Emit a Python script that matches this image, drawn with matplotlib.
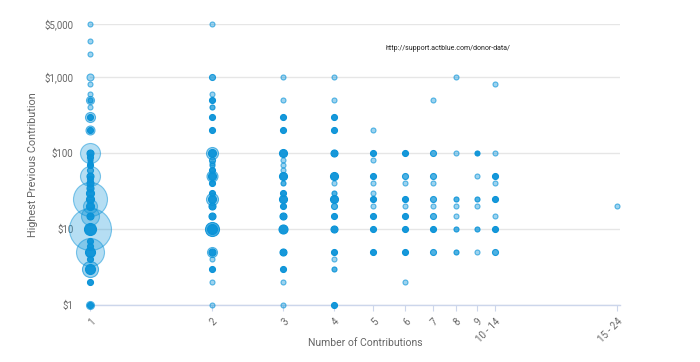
import numpy as np
import matplotlib
matplotlib.use("Agg")
import matplotlib.pyplot as plt
from matplotlib.colors import to_rgba

plt.rcParams["font.family"] = ["Roboto", "DejaVu Sans"]

# categories on the x axis and where they sit on the (log) count scale
categories = ["1", "2", "3", "4", "5", "6", "7", "8", "9", "10 - 14", "15 - 24"]
cat_pos = [1, 2, 3, 4, 5, 6, 7, 8, 9, 10, 20]

# each column: (highest previous contribution, bubble radius px, overlap level 0..3)
col_1 = [(5000, 2.5, 1), (3000, 2.5, 1), (2000, 2.5, 1), (1000, 3.5, 1), (800, 2.5, 1),
         (600, 2.5, 1), (500, 4, 1), (500, 2.5, 2), (400, 2.5, 1), (300, 5, 1), (300, 3, 3),
         (200, 4.5, 1), (200, 3, 3), (100, 10, 0), (100, 3.5, 3), (90, 3, 3), (80, 2.5, 3),
         (75, 2.5, 3), (70, 3, 3), (60, 3, 2), (50, 10, 0), (50, 3.5, 3), (45, 3, 2),
         (40, 3.5, 3), (35, 3.5, 3), (30, 4, 3), (25, 17, 0), (25, 4, 3), (20, 7, 0),
         (20, 4, 3), (15, 9, 0), (15, 3.5, 3), (10, 21, 0), (10, 6, 3), (7, 3, 3), (6, 3, 3),
         (5, 14, 0), (5, 5, 3), (4, 3, 3), (3, 8, 1), (3, 5, 3), (2, 3, 3), (1, 4, 1), (1, 3, 3)]
col_2 = [(5000, 2.5, 1), (1000, 3, 2), (600, 2.5, 1), (500, 3, 3), (400, 2.5, 2), (300, 3, 3),
         (200, 3, 3), (100, 6, 1), (100, 4, 3), (80, 3, 2), (75, 2.5, 1), (70, 2.5, 2),
         (60, 3, 3), (50, 5.5, 1), (50, 4, 3), (40, 3, 3), (30, 3, 3), (25, 6, 1), (25, 4, 3),
         (20, 3.5, 3), (15, 3.5, 3), (10, 7, 2), (10, 5, 3), (5, 5, 1), (5, 3.5, 3),
         (4, 2.5, 1), (3, 3, 3), (2, 2.5, 1), (1, 2.5, 1)]
col_3 = [(1000, 2.5, 1), (500, 2.5, 1), (300, 3, 3), (200, 3, 3), (100, 4, 3), (80, 2.5, 1),
         (70, 2.5, 1), (60, 2.5, 1), (50, 4, 3), (40, 2.5, 2), (30, 3, 3), (25, 4, 3),
         (20, 3, 3), (15, 3.5, 3), (10, 4.5, 3), (5, 3.5, 3), (3, 3, 3), (2, 2.5, 1), (1, 2.5, 1)]
col_4 = [(1000, 2.5, 1), (500, 2.5, 1), (300, 3, 3), (200, 3, 3), (100, 3.5, 3), (50, 4, 3),
         (40, 2.5, 1), (30, 2.5, 2), (25, 4, 3), (20, 3, 2), (15, 3, 3), (10, 3.5, 3),
         (5, 3, 3), (4, 2.5, 1), (3, 2.5, 2), (1, 3, 3)]
col_5 = [(200, 2.5, 1), (100, 3, 3), (80, 2.5, 1), (50, 3, 3), (40, 2.5, 1), (30, 2.5, 1),
         (25, 3, 3), (20, 2.5, 1), (15, 3, 3), (10, 3, 3), (5, 3, 3)]
col_6 = [(100, 3, 3), (50, 3, 2), (40, 2.5, 1), (25, 3, 3), (20, 2.5, 1), (15, 3, 3),
         (10, 3, 3), (5, 3, 3), (2, 2.5, 1)]
col_7 = [(500, 2.5, 1), (100, 3, 2), (50, 3, 2), (40, 2.5, 1), (25, 3, 2), (20, 2.5, 1),
         (15, 3, 2), (10, 3, 3), (5, 3, 2)]
col_8 = [(1000, 2.5, 1), (100, 2.5, 1), (25, 2.5, 2), (20, 2.5, 1), (15, 2.5, 1),
         (10, 2.5, 2), (5, 2.5, 2)]
col_9 = [(100, 2.5, 3), (50, 2.5, 1), (25, 2.5, 2), (20, 2.5, 1), (10, 2.5, 2), (5, 2.5, 1)]
col_10_14 = [(800, 2.5, 1), (100, 2.5, 1), (50, 3, 3), (40, 2.5, 1), (25, 3, 3),
             (15, 2.5, 1), (10, 3, 3), (5, 3, 2)]
col_15_24 = [(20, 2.5, 1)]

columns = [col_1, col_2, col_3, col_4, col_5, col_6, col_7, col_8, col_9, col_10_14, col_15_24]

y_ticks = [1, 10, 100, 1000, 5000]
y_labels = ["$1", "$10", "$100", "$1,000", "$5,000"]

base = "#0a93d8"
face_alpha = [0.3, 0.4, 0.72, 0.95]
edge_alpha = [0.5, 0.65, 0.9, 1.0]

fig = plt.figure(figsize=(7, 3.62), dpi=100)
ax = fig.add_axes([90 / 700, 57 / 362, 530 / 700, 281 / 362])

for pos, col in zip(cat_pos, columns):
    # big bubbles first so the small dots sit on top
    col = sorted(col, key=lambda p: -p[1])
    for amount, r, lvl in col:
        ax.scatter([pos], [amount], s=(2 * r * 0.72) ** 2,
                   facecolor=to_rgba(base, face_alpha[lvl]),
                   edgecolor=to_rgba(base, edge_alpha[lvl]),
                   linewidths=0.8, clip_on=False, zorder=3)

ax.set_xscale("log")
ax.set_yscale("log")
ax.set_xlim(1, 20.3)
ax.set_ylim(1, 5000)

ax.set_yticks(y_ticks)
ax.set_yticklabels(y_labels)
ax.yaxis.set_minor_locator(matplotlib.ticker.NullLocator())
ax.set_xticks(cat_pos)
ax.set_xticklabels(categories, rotation=45, ha="right", rotation_mode="anchor")
ax.xaxis.set_minor_locator(matplotlib.ticker.NullLocator())

ax.tick_params(axis="y", length=0, pad=12, labelsize=7, labelcolor="#666666")
ax.tick_params(axis="x", length=4, width=0.8, color="#ccd6eb", pad=4,
               labelsize=7, labelcolor="#666666")

ax.grid(axis="y", color="#e6e6e6", linewidth=1)
ax.set_axisbelow(True)
for side in ["top", "right", "left"]:
    ax.spines[side].set_visible(False)
ax.spines["bottom"].set_color("#ccd6eb")
ax.spines["bottom"].set_linewidth(1)

ax.set_ylabel("Highest Previous Contribution", fontsize=7.8, color="#666666", va="center")
ax.yaxis.set_label_coords(-0.107, 0.498)
ax.set_xlabel("Number of Contributions", fontsize=7.5, color="#666666", va="center")
ax.xaxis.set_label_coords(0.519, -0.135)

fig.text(385 / 700, 1 - 48 / 362, "http://support.actblue.com/donor-data/",
         fontsize=5, color="#222222", va="center", ha="left")

fig.savefig("out.png", dpi=100)
